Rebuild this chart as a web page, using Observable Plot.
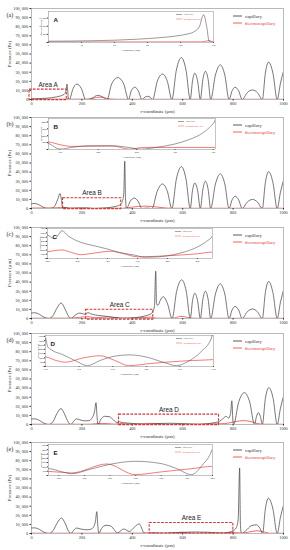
<!DOCTYPE html>
<html><head><meta charset="utf-8">
<script src="https://cdn.jsdelivr.net/npm/d3@7"></script>
<script src="https://cdn.jsdelivr.net/npm/@observablehq/plot@0.6"></script>
<style>
body{margin:0;background:#fff;}
#root{position:relative;width:290px;height:550px;overflow:hidden;background:#fff;}
#root svg{position:absolute;overflow:visible;}
</style></head><body><div id="root"></div>
<script>
// ---------- data ----------
const panelLabels = ["(a)", "(b)", "(c)", "(d)", "(e)"];
const yAxisLabels = ["Pressure (Pa)", "Pressure (Pa)", "Pressure (μm)", "Pressure (Pa)", "Pressure (Pa)"];
const areaNames = ["Area A", "Area B", "Area C", "Area D", "Area E"];
const insetLetters = ["A", "B", "C", "D", "E"];
const seriesNames = ["capillary", "thermocapillary"];
const mainXTicks = [0, 200, 400, 600, 800, 1000];
const mainYTicks = [0, 10000, 20000, 30000, 40000, 50000, 60000, 70000, 80000, 90000, 100000];
const areaX = [[-8, 140], [125, 356], [217, 483], [347, 744], [469, 801]];
const areaY = [[-700, 10800], [-700, 11300], [-1200, 9600], [-700, 10800], [0, 11500]];
const insetXDomains = [[0, 150], [135, 353], [200, 475], [350, 750], [480, 800]];
const insetXTicks = [[0, 30, 60, 90, 120, 150], [150, 200, 250, 300, 350], [200, 250, 300, 350, 400, 450], [350, 430, 510, 590, 670, 750], [500, 550, 600, 650, 700, 750, 800]];
const insetYDomains = [[0, 19000], [0, 4500], [0, 7000], [0, 3600], [0, 3600]];
const insetYTicks = [[0, 5000, 10000, 15000], [0, 1000, 2000, 3000, 4000], [0, 1000, 2000, 3000, 4000, 5000, 6000, 7000], [0, 500, 1000, 1500, 2000, 2500, 3000, 3500], [0, 500, 1000, 1500, 2000, 2500, 3000, 3500]];

const capA = [[0,800],[20,900],[40,1100],[60,1400],[80,2000],[100,2900],[115,3900],[125,5000],[132,6500],[137,9500],[141,17000],[144,9000],[146,600],[148,300],[150,0],
[165,12000],[180,17000],[198,12000],[215,0],[228,300],[240,1500],[262,4500],[285,2500],[300,0],
[318,17000],[343,24000],[366,17000],[385,0],[396,9500],[410,13500],[424,9500],[438,0],[450,2500],[461,3500],[471,2500],[481,0],
[499,20000],[520,28000],[539,20000],[557,0],[575,32500],[595,46000],[613,32500],[630,0],[639,20500],[648,29000],[659,20500],[670,0],
[680,22000],[690,31000],[701,22000],[711,0],[730,27000],[749,38000],[767,27000],[784,0],[796,9500],[808,13500],[822,9500],[836,0],
[856,7500],[877,10500],[897,7500],[916,0],[928,29000],[941,41000],[958,29000],[975,0],[988,18000],[1000,31000]];
const thermoA = [[0,300],[140,400],[146,1200],[150,300],[230,400],[248,1500],[268,2600],[290,1800],[315,500],[340,250],[1000,250]];

const capB = [[0,5000],[10,5500],[22,5000],[35,3300],[48,1200],[58,200],[70,0],[82,400],[94,3500],[104,10000],[113,16500],[118,11000],[123,2000],[128,1200],[135,900],[150,50],[165,300],[190,550],[215,550],[240,300],[255,50],[275,300],[300,800],[320,1500],[335,2300],[345,3200],[353,4400],[360,7500],[366,15000],[370,52000],[373,12000],[377,0],
[392,8000],[407,11500],[423,8000],[438,0],[458,500],[478,0],[499,19000],[520,27000],[539,19000],[557,0],
[575,32500],[595,46000],[613,32500],[630,0],[639,20000],[648,28000],[659,20000],[670,0],[680,21000],[690,30000],[701,21000],[711,0],
[730,27000],[749,38000],[767,27000],[784,0],[796,9500],[808,13500],[822,9500],[836,0],[856,7000],[877,10000],[897,7000],[916,0],
[928,28500],[941,40500],[958,28500],[975,0],[988,18000],[1000,31000]];
const thermoB = [[0,500],[90,700],[115,1200],[135,1100],[150,700],[165,450],[220,500],[240,50],[260,300],[365,300],[380,700],[400,1500],[425,2300],[452,2600],[480,2200],[510,1200],[540,400],[560,250],[1000,250]];

const capC = [[0,6000],[12,6300],[25,5500],[40,3000],[55,800],[68,0],[85,3000],[100,11000],[118,17000],[132,11000],[147,2500],[157,0],[168,2500],[182,5300],[192,5900],[200,5500],[212,4600],[218,5500],[224,6500],[235,5200],[255,3800],[280,2900],[300,2200],[320,1400],[345,800],[362,300],[385,400],[410,900],[430,1600],[450,2700],[465,4000],[475,5300],[482,8000],[488,14000],[493,52000],[496,16000],[502,14500],[511,20000],[523,24000],[540,16000],[558,0],
[576,30000],[596,42500],[614,30000],[630,0],[639,19500],[648,27800],[659,19500],[670,0],[680,21000],[690,30000],[701,21000],[711,0],
[730,27000],[749,38000],[767,27000],[784,0],[796,9300],[808,13300],[822,9300],[836,0],[856,7300],[877,10400],[897,7300],[916,0],
[928,28500],[941,40700],[958,28500],[975,0],[988,18000],[1000,31000]];
const thermoC = [[0,300],[150,400],[190,1300],[210,1800],[224,2000],[240,1400],[255,900],[280,1300],[305,1700],[325,1200],[350,400],[380,500],[420,800],[450,1100],[475,1500],[490,500],[500,300],[560,300],[575,1200],[592,2400],[610,1800],[630,500],[650,250],[1000,250]];

const capD = [[0,6000],[12,6200],[25,5400],[40,3000],[55,800],[68,0],[85,3000],[100,11500],[117,17500],[131,11500],[146,2500],[156,0],[166,3000],[178,6200],[192,5200],[210,4000],[228,4200],[242,8000],[250,14000],[256,24000],[260,9000],[264,0],[275,5500],[290,9000],[308,8700],[325,5000],[340,2200],[347,2500],[350,3300],[355,2300],[365,1900],[390,1400],[420,700],[450,100],[480,700],[515,1200],[550,1350],[590,1100],[630,500],[662,100],[690,600],[720,1700],[745,3300],[760,6500],[772,9000],[782,7000],[790,12000],[795,26000],[799,5000],[802,0],
[822,24500],[845,35000],[866,24500],[885,0],[893,9000],[900,13000],[908,9000],[916,0],[928,28500],[942,40500],[959,28500],[975,0],[988,18000],[1000,31000]];
const thermoD = [[0,300],[230,300],[255,900],[280,1200],[300,1000],[330,400],[350,1100],[375,700],[398,500],[440,1000],[480,1250],[515,700],[548,100],[600,350],[650,550],[700,700],[750,800],[780,1500],[810,3200],[840,4300],[870,3300],[895,1200],[920,300],[1000,250]];

const capE = [[0,6000],[12,6200],[25,5400],[40,3000],[55,800],[68,0],[85,3000],[102,11500],[119,17000],[133,11500],[147,2500],[157,0],[166,3000],[178,6000],[195,5000],[220,4000],[238,5000],[248,8000],[254,14000],[259,24000],[263,9000],[267,0],[278,5500],[296,9000],[314,8300],[330,3500],[340,600],[352,2500],[366,5000],[378,3500],[388,2200],[400,4500],[414,8500],[428,10500],[437,6000],[445,1000],[458,300],[470,600],[480,800],[505,450],[525,200],[560,700],[597,1260],[649,1650],[700,1380],[730,800],[759,100],[780,1200],[800,3150],[812,6000],[820,15000],[826,72000],[829,10000],[833,0],
[850,3000],[872,8500],[893,9500],[907,5500],[917,0],[928,27000],[940,38800],[958,27000],[975,0],[988,18000],[1000,31000]];
const thermoE = [[0,300],[460,400],[480,470],[525,300],[594,1340],[649,100],[700,420],[760,800],[800,1060],[820,800],[835,400],[860,1500],[895,3000],[925,1500],[945,300],[1000,250]];

const caps = [capA, capB, capC, capD, capE];
const thermos = [thermoA, thermoB, thermoC, thermoD, thermoE];

// ---------- layout / style ----------
const frameTops = [7.5, 117, 226.5, 332.5, 441.5];
const insetFrames = [[48, 11, 213, 42], [48, 118, 215, 149], [47, 228, 212, 258], [45, 335, 213, 366], [48, 444, 212, 475]];
const capColor = "#484848";
const thermoColor = "#ee4f4a";
const frameColor = "#8a8a8a";
const serif = "Liberation Serif";
const sans = "Liberation Sans";

const fmtComma = d => d === 0 ? "0" : d3.format(",")(d).replace(/,/g, ", ");
const toObj = arr => arr.map(([x, y]) => ({x, y}));
const root = document.getElementById("root");

function mainPlot(i) {
  const mT = 7, mB = 15, mL = 31, mR = 7;
  const area = [{x1: areaX[i][0], x2: areaX[i][1], y1: areaY[i][0], y2: areaY[i][1]}];
  const areaLabel = [{x: (areaX[i][0] + areaX[i][1]) / 2, y: areaY[i][1] + 5400, t: areaNames[i]}];
  const svg = Plot.plot({
    width: 290, height: mT + 91 + mB,
    marginTop: mT, marginBottom: mB, marginLeft: mL, marginRight: mR,
    style: {background: "transparent", fontFamily: serif, fontSize: "4.2px", color: "#2a2a2a", overflow: "visible"},
    x: {domain: [0, 1000]},
    y: {domain: [0, 100000]},
    marks: [
      Plot.frame({stroke: frameColor, strokeWidth: 0.6}),
      Plot.axisX({ticks: mainXTicks, tickFormat: d => String(d), tickSize: 1.5, tickPadding: 1, label: null}),
      Plot.axisX({ticks: [], label: "r-coordinate (μm)", labelAnchor: "center", labelOffset: 13, labelArrow: "none", fontSize: 4.8}),
      Plot.axisY({ticks: mainYTicks, tickFormat: fmtComma, tickSize: 1.5, tickPadding: 2, label: null}),
      Plot.axisY({ticks: [], label: yAxisLabels[i], labelAnchor: "center", labelOffset: 24, labelArrow: "none", fontSize: 5}),
      Plot.line(toObj(thermos[i]), {x: "x", y: "y", stroke: thermoColor, strokeWidth: 0.85, curve: "monotone-x", clip: true}),
      Plot.line(toObj(caps[i]), {x: "x", y: "y", stroke: capColor, strokeWidth: 0.75, curve: "monotone-x", clip: true}),
      Plot.rect(area, {x1: "x1", x2: "x2", y1: "y1", y2: "y2", fill: "none", stroke: "#e62b2b", strokeWidth: 1.1, strokeDasharray: "2.6,1.4"}),
      Plot.text(areaLabel, {x: "x", y: "y", text: "t", fontFamily: sans, fontSize: 6.4, fill: "#1a1a1a", fontWeight: 500}),
      Plot.text([panelLabels[i]], {frameAnchor: "top-left", dx: -25, dy: 4, textAnchor: "start", fontSize: 6, fill: "#1a1a1a"})
    ]
  });
  svg.style.left = "0px";
  svg.style.top = (frameTops[i] - mT) + "px";
  root.appendChild(svg);
}

function insetPlot(i) {
  const [fx1, fy1, fx2, fy2] = insetFrames[i];
  const mL = 9, mB = 10, mT = 1, mR = 1;
  const svg = Plot.plot({
    width: fx2 - fx1 + mL + mR, height: fy2 - fy1 + mT + mB,
    marginTop: mT, marginBottom: mB, marginLeft: mL, marginRight: mR,
    style: {background: "transparent", fontFamily: serif, fontSize: "2.6px", color: "#333", overflow: "visible"},
    x: {domain: insetXDomains[i], ticks: insetXTicks[i], tickFormat: d => String(d), tickSize: 1, tickPadding: 0.8,
        label: "r-coordinate (μm)", labelAnchor: "center", labelOffset: 8.5, labelArrow: "none"},
    y: {domain: insetYDomains[i], ticks: insetYTicks[i], tickFormat: i === 0 ? fmtComma : d => String(d), tickSize: 1, tickPadding: 0.8,
        label: "Pressure (Pa)", labelAnchor: "center", labelOffset: 8, labelArrow: "none"},
    marks: [
      Plot.frame({stroke: frameColor, strokeWidth: 0.5}),
      Plot.line(toObj(thermos[i]), {x: "x", y: "y", stroke: thermoColor, strokeWidth: 0.75, curve: "monotone-x", clip: true}),
      Plot.line(toObj(caps[i]), {x: "x", y: "y", stroke: capColor, strokeWidth: 0.55, curve: "monotone-x", clip: true}),
      Plot.text([insetLetters[i]], {frameAnchor: "top-left", dx: 5, dy: 6, fontFamily: sans, fontWeight: "bold", fontSize: 6.2, fill: "#1a1a1a"})
    ]
  });
  svg.style.left = (fx1 - mL) + "px";
  svg.style.top = (fy1 - mT) + "px";
  root.appendChild(svg);
  // inset legend
  const lg = d3.create("svg").attr("width", 40).attr("height", 10)
    .style("left", (fx2 - 38) + "px").style("top", (fy1 + 1) + "px");
  [[capColor, "#555", 2.5], [thermoColor, thermoColor, 7]].forEach(([c, tc, y], k) => {
    lg.append("line").attr("x1", 1).attr("x2", 7).attr("y1", y).attr("y2", y).attr("stroke", c).attr("stroke-width", 0.5);
    lg.append("text").attr("x", 8.5).attr("y", y).attr("dy", "0.32em").attr("font-size", 2.8)
      .attr("font-family", serif).attr("fill", tc).text(seriesNames[k]);
  });
  root.appendChild(lg.node());
}

function mainLegend(i) {
  const lg = d3.create("svg").attr("width", 60).attr("height", 20)
    .style("left", "230px").style("top", frameTops[i] + "px");
  [[capColor, "#333", 8], [thermoColor, "#e8403a", 15]].forEach(([c, tc, y], k) => {
    lg.append("line").attr("x1", 3).attr("x2", 12).attr("y1", y).attr("y2", y).attr("stroke", c).attr("stroke-width", 0.9);
    lg.append("text").attr("x", 15).attr("y", y).attr("dy", "0.32em").attr("font-size", 4.8)
      .attr("font-family", serif).attr("fill", tc).text(seriesNames[k]);
  });
  root.appendChild(lg.node());
}

for (let i = 0; i < 5; i++) {
  mainPlot(i);
  insetPlot(i);
  mainLegend(i);
}
</script></body></html>
